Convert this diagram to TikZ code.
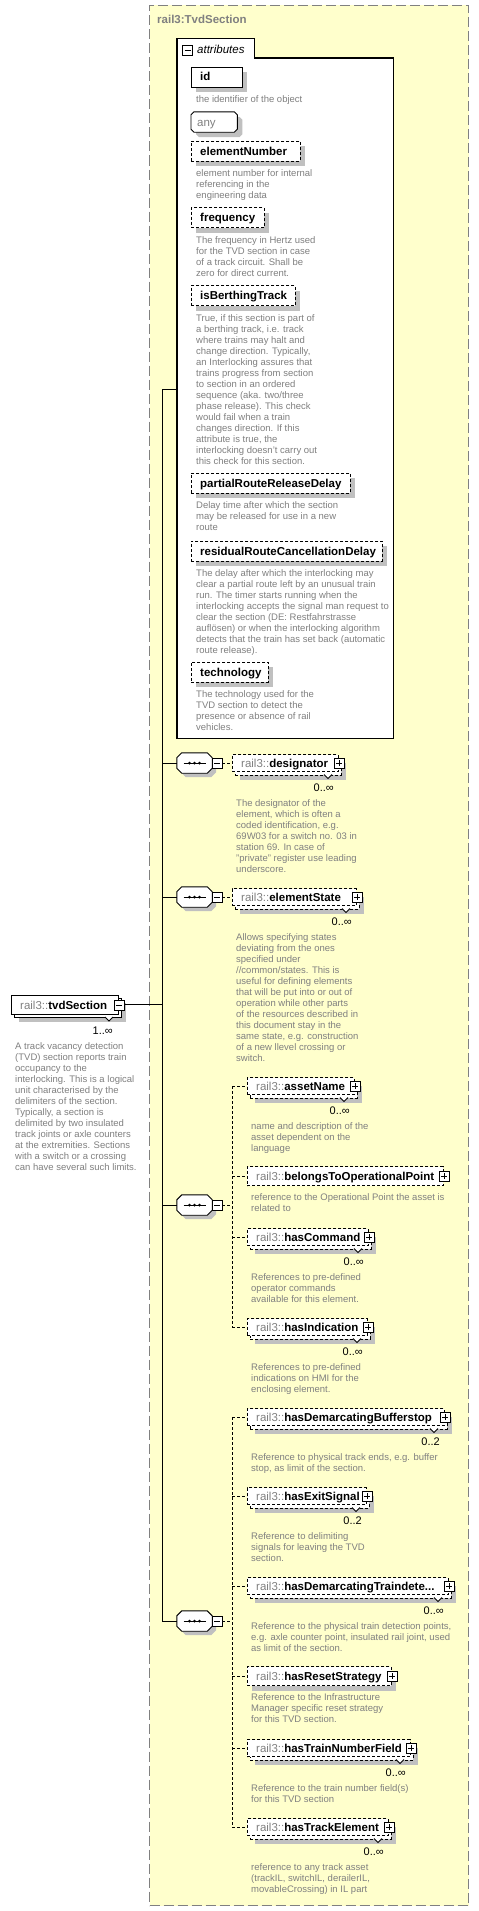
\documentclass[tikz,border=0pt]{standalone}
\usepackage{fontspec}
\setmainfont{Liberation Sans}
\definecolor{bgyellow}{RGB}{255,255,204}
\definecolor{framegray}{RGB}{128,128,128}
\definecolor{shadowgray}{RGB}{192,192,192}
\definecolor{descgray}{RGB}{128,128,128}
\definecolor{nsgray}{RGB}{128,128,128}
\newcommand{\railns}{{\color{nsgray}rail3::}}
% octagon drawn on a node's border: node, chamfer, path style
\newcommand{\octo}[3]{\path[#3] ([xshift=#2]#1.north west) -- ([xshift=-#2]#1.north east) -- ([yshift=-#2]#1.north east) -- ([yshift=#2]#1.south east) -- ([xshift=-#2]#1.south east) -- ([xshift=#2]#1.south west) -- ([yshift=#2]#1.south west) -- ([yshift=-#2]#1.north west) -- cycle;}
% multi-occurrence element: name, left, centre y, width, label, multiplicity, description
\newcommand{\MultiEl}[7]{%
  \fill[shadowgray] (#2+8,#3-0.5) rectangle (#2+#4+8,#3+16.5);
  \node[elbox, minimum width=#4pt, anchor=north west] (#1-back) at (#2+3,#3-5.5) {};
  \filldraw[notch] (#2+#4-14,#3+11.5) -- (#2+#4-10,#3+15.5) -- (#2+#4-6,#3+11.5);
  \node[elbox, minimum width=#4pt, anchor=west] (#1) at (#2,#3) {};
  \node[lbl] (#1-t) at (#2+9,#3+4) {\railns\textbf{#5}};
  \node[plusicon] (#1-p) at (#1.east) {};
  \node[mult] (#1-m) at (#2+#4-4,#3+28) {#6};
  \node[desc] (#1-d) at (#2+4,#3+35.5) {\rule{0pt}{8pt}#7};
}
% single element: name, left, centre y, width, label, shadow style, description
\newcommand{\SingleEl}[7]{%
  \fill[#6] (#2+5,#3-4.5) rectangle (#2+#4+5,#3+14.5);
  \node[sglbox, minimum width=#4pt, anchor=west] (#1) at (#2,#3) {};
  \node[lbl] (#1-t) at (#2+9,#3+4) {\railns\textbf{#5}};
  \node[plusicon] (#1-p) at (#1.east) {};
  \node[desc] (#1-d) at (#2+4,#3+16.5) {\rule{0pt}{8pt}#7};
}
% attribute: name, centre y, width, box style, label, description
\newcommand{\AttrEl}[6]{%
  \node[#4, fill=shadowgray, draw=none, minimum width=#3pt, anchor=west] (#1-sh) at (196,#2+5) {};
  \node[#4, minimum width=#3pt, anchor=west] (#1) at (191,#2) {};
  \node[lbl] (#1-t) at (200,#2+4) {#5};
  \node[desc] (#1-d) at (196,#2+17.5) {\rule{0pt}{8pt}#6};
}
% sequence compositor: name, centre y
\newcommand{\SeqNode}[2]{%
  \node[seqshape] (#1-sh) at (198.5,#2+4) {};
  \octo{#1-sh}{5pt}{fill=shadowgray}
  \node[seqshape] (#1) at (194.5,#2) {};
  \octo{#1}{5pt}{draw=black, fill=white, line width=0.9pt}
  \draw[line width=0.9pt] ([xshift=-11pt]#1.center) -- ([xshift=11pt]#1.center);
  \fill ([xshift=-5pt]#1.center) circle (1.5pt);
  \fill (#1.center) circle (1.5pt);
  \fill ([xshift=5pt]#1.center) circle (1.5pt);
  \node[minusicon] (#1-m) at (217,#2) {};
}
\begin{document}
\begin{tikzpicture}[x=1pt,y=-1pt,
  yframe/.style={draw=framegray, fill=bgyellow, line width=1pt, dash pattern=on 10pt off 4pt, inner sep=0pt, minimum width=319pt, minimum height=1900pt, anchor=north west},
  titletext/.style={anchor=base west, inner sep=0pt, text=framegray, font=\fontsize{11.5}{13}\selectfont\bfseries},
  lbl/.style={anchor=base west, inner sep=0pt, font=\fontsize{11.5}{13}\selectfont},
  desc/.style={anchor=north west, inner sep=0pt, align=left, text=descgray, font=\fontsize{9.5}{11}\selectfont},
  mult/.style={anchor=base east, inner sep=0pt, font=\fontsize{11}{13}\selectfont},
  elbox/.style={draw=black, fill=white, line width=0.9pt, dash pattern=on 3pt off 2pt, minimum height=17pt, inner sep=0pt},
  sglbox/.style={elbox, minimum height=19pt},
  attrsolid/.style={draw=black, fill=white, line width=0.9pt, minimum height=20pt, inner sep=0pt},
  attrdash/.style={attrsolid, dash pattern=on 3pt off 2pt},
  tvdbox/.style={draw=black, fill=white, line width=0.9pt, minimum width=107pt, minimum height=19pt, inner sep=0pt},
  seqshape/.style={rectangle, minimum width=35pt, minimum height=20pt, inner sep=0pt},
  anyshape/.style={rectangle, minimum width=46pt, minimum height=20pt, inner sep=0pt, anchor=west},
  plusicon/.style={draw=black, fill=white, line width=0.7pt, minimum size=10pt, inner sep=0pt,
    path picture={\draw[line width=0.7pt] ([xshift=2pt]path picture bounding box.west) -- ([xshift=-2pt]path picture bounding box.east) ([yshift=2pt]path picture bounding box.south) -- ([yshift=-2pt]path picture bounding box.north);}},
  minusicon/.style={draw=black, fill=white, line width=0.7pt, minimum size=10pt, inner sep=0pt,
    path picture={\draw[line width=0.7pt] ([xshift=2pt]path picture bounding box.west) -- ([xshift=-2pt]path picture bounding box.east);}},
  spine/.style={draw=black, line width=1pt},
  dashline/.style={draw=black, line width=0.9pt, dash pattern=on 3pt off 2pt},
  notch/.style={draw=black, fill=white, line width=0.8pt},
]
\useasboundingbox (0,0) rectangle (479,1911);
\fill[white] (0,0) rectangle (479,1911);

% outer complex type frame
\node[yframe] (frame) at (149,5) {};
\node[titletext] (title) at (157,24) {rail3:TvdSection};

% attributes box
\node[fill=white, inner sep=0pt, minimum width=216pt, minimum height=680pt, anchor=north west] (attr) at (177,58) {};
\node[fill=white, inner sep=0pt, minimum width=77pt, minimum height=19pt, anchor=south west] (attrtab) at (177,58) {};
\draw[line width=1.2pt] (attrtab.south east) -- (attr.north east) -- (attr.south east) -- (attr.south west) -- (attrtab.north west) -- (attrtab.north east) -- cycle;
\node[minusicon] (attr-m) at (187.5,50) {};
\node[lbl, font=\fontsize{11.5}{13}\selectfont\itshape] (attr-t) at (197,54) {attributes};

\AttrEl{id}{77}{51}{attrsolid}{\textbf{id}}{the identifier of the object}
\node[anyshape] (any-sh) at (196,127) {};
\octo{any-sh}{3pt}{fill=shadowgray}
\node[anyshape] (any) at (191,122) {};
\octo{any}{3pt}{draw=black, fill=white, line width=0.9pt}
\node[lbl, text=nsgray] (any-t) at (197,126) {any};
\AttrEl{elnum}{151}{109}{attrdash}{\textbf{elementNumber}}{element number for internal\\referencing in the\\engineering data}
\AttrEl{freq}{217.5}{73}{attrdash}{\textbf{frequency}}{The frequency in Hertz used\\for the TVD section in case\\of a track circuit. Shall be\\zero for direct current.}
\AttrEl{berth}{295.5}{104}{attrdash}{\textbf{isBerthingTrack}}{True, if this section is part of\\a berthing track, i.e. track\\where trains may halt and\\change direction. Typically,\\an Interlocking assures that\\trains progress from section\\to section in an ordered\\sequence (aka. two/three\\phase release). This check\\would fail when a train\\changes direction. If this\\attribute is true, the\\interlocking doesn't carry out\\this check for this section.}
\AttrEl{partial}{483}{159}{attrdash}{\textbf{partialRouteReleaseDelay}}{Delay time after which the section\\may be released for use in a new\\route}
\AttrEl{residual}{551}{191}{attrdash}{\textbf{residualRouteCancellationDelay}}{The delay after which the interlocking may\\clear a partial route left by an unusual train\\run. The timer starts running when the\\interlocking accepts the signal man request to\\clear the section (DE: Restfahrstrasse\\auflösen) or when the interlocking algorithm\\detects that the train has set back (automatic\\route release).}
\AttrEl{techn}{672}{77}{attrdash}{\textbf{technology}}{The technology used for the\\TVD section to detect the\\presence or absence of rail\\vehicles.}

% main spine
\coordinate (sp-top) at (162,389);
\coordinate (sp-bot) at (162,1621);
\draw[spine] (sp-top) -- (sp-bot);
\draw[spine] (sp-top) -- (sp-top -| attr.west);

% root element
\fill[shadowgray] (19,1003) rectangle (126,1022);
\node[tvdbox, anchor=north west] (tvd-back) at (14,998) {};
\filldraw[notch] (105,1017) -- (109,1021) -- (113,1017);
\node[tvdbox, anchor=north west] (tvd) at (11,995) {};
\node[lbl] (tvd-t) at (20,1009) {\railns\textbf{tvdSection}};
\node[minusicon] (tvd-m) at (tvd.east) {};
\node[mult] (tvd-mu) at (113,1034) {1..∞};
\node[desc] (tvd-d) at (15,1041.5) {\rule{0pt}{8pt}A track vacancy detection\\(TVD) section reports train\\occupancy to the\\interlocking. This is a logical\\unit characterised by the\\delimiters of the section.\\Typically, a section is\\delimited by two insulated\\track joints or axle counters\\at the extremities. Sections\\with a switch or a crossing\\can have several such limits.};
\draw[spine] (tvd-m.east) -- (tvd-m.east -| sp-top);

% sequence 1
\SeqNode{seqa}{763}
\draw[spine] (seqa.west -| sp-top) -- (seqa.west);
\MultiEl{designator}{232}{763}{106}{designator}{0..∞}{The designator of the\\element, which is often a\\coded identification, e.g.\\69W03 for a switch no. 03 in\\station 69. In case of\\"private" register use leading\\underscore.}
\draw[dashline] (seqa-m.east) -- (designator.west);

% sequence 2
\SeqNode{seqb}{897}
\draw[spine] (seqb.west -| sp-top) -- (seqb.west);
\MultiEl{elstate}{232}{897}{124}{elementState}{0..∞}{Allows specifying states\\deviating from the ones\\specified under\\//common/states. This is\\useful for defining elements\\that will be put into or out of\\operation while other parts\\of the resources described in\\this document stay in the\\same state, e.g. construction\\of a new llevel crossing or\\switch.}
\draw[dashline] (seqb-m.east) -- (elstate.west);

% sequence 3
\SeqNode{seqc}{1205}
\draw[spine] (seqc.west -| sp-top) -- (seqc.west);
\coordinate (busc-top) at (232,1086);
\coordinate (busc-bot) at (232,1327);
\coordinate (busc-mid) at (232,1205);
\draw[dashline] (seqc-m.east) -- (busc-mid);
\draw[dashline] (busc-top) -- (busc-bot);
\MultiEl{assetname}{247}{1086}{107}{assetName}{0..∞}{name and description of the\\asset dependent on the\\language}
\SingleEl{belongs}{247}{1176}{196}{belongsToOperationalPoint}{opacity=0}{reference to the Operational Point the asset is\\related to}
\MultiEl{hascommand}{247}{1237}{121}{hasCommand}{0..∞}{References to pre-defined\\operator commands\\available for this element.}
\MultiEl{hasindication}{247}{1327}{120}{hasIndication}{0..∞}{References to pre-defined\\indications on HMI for the\\enclosing element.}
\draw[dashline] (assetname.west -| busc-top) -- (assetname.west);
\draw[dashline] (belongs.west -| busc-top) -- (belongs.west);
\draw[dashline] (hascommand.west -| busc-top) -- (hascommand.west);
\draw[dashline] (hasindication.west -| busc-top) -- (hasindication.west);

% sequence 4
\SeqNode{seqd}{1621}
\draw[spine] (seqd.west -| sp-top) -- (seqd.west);
\coordinate (busd-top) at (232,1417);
\coordinate (busd-bot) at (232,1827);
\coordinate (busd-mid) at (232,1621);
\draw[dashline] (seqd-m.east) -- (busd-mid);
\draw[dashline] (busd-top) -- (busd-bot);
\MultiEl{bufferstop}{247}{1417}{197}{hasDemarcatingBufferstop}{0..2}{Reference to physical track ends, e.g. buffer\\stop, as limit of the section.}
\MultiEl{exitsignal}{247}{1496}{119}{hasExitSignal}{0..2}{Reference to delimiting\\signals for leaving the TVD\\section.}
\MultiEl{traindete}{247}{1586}{201}{hasDemarcatingTraindete...}{0..∞}{Reference to the physical train detection points,\\e.g. axle counter point, insulated rail joint, used\\as limit of the section.}
\SingleEl{resetstrategy}{247}{1676}{144}{hasResetStrategy}{shadowgray}{Reference to the Infrastructure\\Manager specific reset strategy\\for this TVD section.}
\MultiEl{trainnumber}{247}{1748}{163}{hasTrainNumberField}{0..∞}{Reference to the train number field(s)\\for this TVD section}
\MultiEl{trackelement}{247}{1827}{141}{hasTrackElement}{0..∞}{reference to any track asset\\(trackIL, switchIL, derailerIL,\\movableCrossing) in IL part}
\draw[dashline] (bufferstop.west -| busd-top) -- (bufferstop.west);
\draw[dashline] (exitsignal.west -| busd-top) -- (exitsignal.west);
\draw[dashline] (traindete.west -| busd-top) -- (traindete.west);
\draw[dashline] (resetstrategy.west -| busd-top) -- (resetstrategy.west);
\draw[dashline] (trainnumber.west -| busd-top) -- (trainnumber.west);
\draw[dashline] (trackelement.west -| busd-top) -- (trackelement.west);
\end{tikzpicture}
\end{document}
